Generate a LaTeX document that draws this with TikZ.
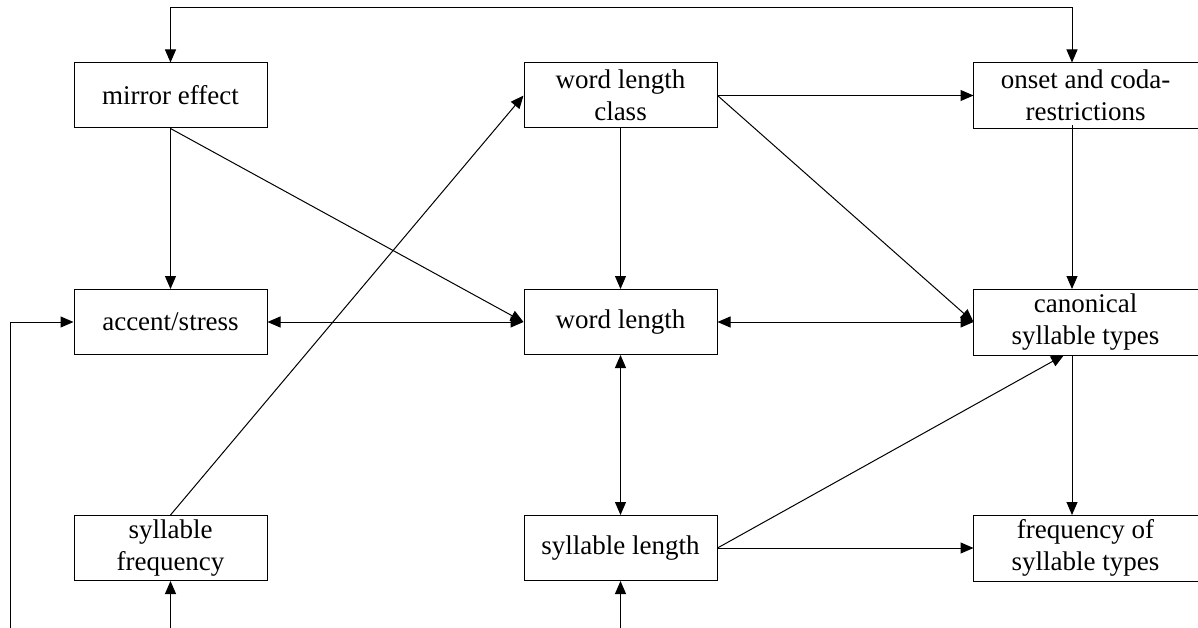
\documentclass[tikz,border=0pt]{standalone}
\usepackage{fontspec}
\setmainfont{Liberation Serif}
\usetikzlibrary{arrows.meta}
\begin{document}
\begin{tikzpicture}[x=1pt,y=-1pt,
  box/.style={draw=black, line width=1pt, minimum width=193pt, minimum height=65pt,
    inner sep=0pt, align=center, font=\fontsize{27}{32}\selectfont},
  openbox/.style={box, draw=none, minimum width=223pt},
  conn/.style={line width=1pt, -{Triangle[length=13pt,width=11pt]}},
  bconn/.style={line width=1pt, {Triangle[length=13pt,width=11pt]}-{Triangle[length=13pt,width=11pt]}}]
\useasboundingbox (0,0) rectangle (1198,628);
\clip (0,0) rectangle (1198,628);
% nodes
\node[box] (mirror) at (170.5,95.5) {mirror effect};
\node[box] (wlc) at (620.5,95.5) {word length\\class};
\node[openbox] (onset) at (1085.5,95.5) {onset and coda-\\restrictions};
\node[box] (accent) at (170.5,322) {accent/stress};
\node[box] (wl) at (620.5,322) {word length};
\node[openbox] (canon) at (1085.5,322) {canonical\\syllable types};
\node[box] (sf) at (170.5,548) {syllable\\frequency};
\node[box] (sl) at (620.5,548) {syllable length};
\node[openbox] (freq) at (1085.5,548) {frequency of\\syllable types};
% right-column boxes run to the right edge
\foreach \n in {onset,canon,freq}
  \draw[line width=1pt] ([xshift=20pt]\n.north east) -- (\n.north west) -- (\n.south west) -- ([xshift=20pt]\n.south east);
% free ends
\coordinate (topl) at (170.5,8);
\coordinate (leftb) at (10,640);
\coordinate (sfb) at (170.5,640);
\coordinate (slb) at (620.5,640);
% connectors
\draw[bconn] (mirror.north) -- (topl) -| ([xshift=-13.5pt]onset.north);
\draw[conn] (mirror.south) -- (accent.north);
\draw[conn] (mirror.south) -- (wl.west);
\draw[bconn] (accent.east) -- (wl.west);
\draw[conn] (sf.north) -- (wlc.west);
\draw[conn] (wlc.east) -- (onset.west);
\draw[conn] (wlc.south) -- (wl.north);
\draw[conn] (wlc.east) -- (canon.west);
\draw[bconn] (wl.east) -- (canon.west);
\draw[conn] ([xshift=-13.5pt,yshift=3pt]onset.south) -- ([xshift=-13.5pt]canon.north);
\draw[bconn] (wl.south) -- (sl.north);
\draw[conn] (sl.east) -- ([xshift=-21.5pt]canon.south);
\draw[conn] ([xshift=-13.5pt]canon.south) -- ([xshift=-13.5pt]freq.north);
\draw[conn] (sl.east) -- (freq.west);
\draw[conn] (leftb) |- (accent.west);
\draw[conn] (sfb) -- (sf.south);
\draw[conn] (slb) -- (sl.south);
\end{tikzpicture}
\end{document}
